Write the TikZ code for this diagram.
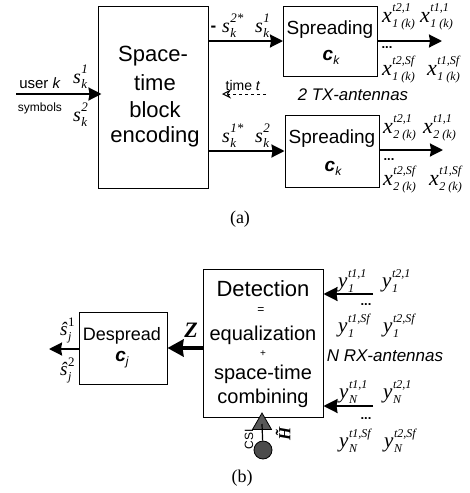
\documentclass[tikz,border=0pt]{standalone}
\usepackage{fontspec}
\setmainfont{Liberation Serif}
\setsansfont{Liberation Sans}
\usetikzlibrary{arrows.meta,shapes.geometric}
\newcommand{\fs}[1]{\fontsize{#1}{#1}\selectfont}
% base, sup, sub, base size, script size, sup raise, sub drop
\newcommand{\lbl}[7]{{\fs{#4}\itshape #1}\hspace{0.5pt}\makebox[0pt][l]{\raisebox{#6pt}{\fs{#5}\itshape #2}}\raisebox{-#7pt}{\fs{#5}\itshape #3}}
\newcommand{\slab}[2]{\lbl{s}{#1}{#2}{20}{13}{10}{5}}
\newcommand{\xlab}[2]{\lbl{x}{#1}{#2}{22}{12}{11}{5}}
\newcommand{\ylab}[2]{\lbl{y}{#1}{#2}{21}{12}{10}{5}}
\newcommand{\shatlab}[1]{{\fs{19}\itshape ŝ}\hspace{0.5pt}\makebox[0pt][l]{\raisebox{9pt}{\fs{13}#1}}\raisebox{-5pt}{\fs{12}\itshape j}}
\tikzset{
  blk/.style={draw,line width=1pt,inner sep=0pt,align=center,font=\sffamily},
  txl/.style={inner sep=0pt,anchor=base west},
  lab/.style={inner sep=0pt,font=\sffamily},
  mainar/.style={line width=2pt,-{Stealth[length=13pt,width=13pt,inset=1pt]}},
  thickar/.style={line width=4pt,-{Stealth[length=16pt,width=17pt,inset=1pt]}},
  rxar/.style={line width=2pt,-{Stealth[length=14pt,width=14pt,inset=1pt]}},
  dotsn/.style={inner sep=0pt,font=\sffamily\bfseries\fs{13}},
  codel/.style={inner sep=0pt,font=\sffamily\bfseries\itshape\fs{19}},
}
\begin{document}
\begin{tikzpicture}[x=1pt,y=-1pt]
\useasboundingbox (0,0) rectangle (470,493);
% boxes
\node[blk,minimum width=110pt,minimum height=182pt] (stbc) at (153,97) {};
\node[blk,minimum width=94pt,minimum height=70pt] (spr1) at (330.5,41) {};
\node[blk,minimum width=94pt,minimum height=72pt] (spr2) at (332,151) {};
\node[blk,minimum width=120pt,minimum height=148pt] (det) at (263,343) {};
\node[blk,minimum width=88pt,minimum height=72pt] (des) at (123,348) {};
% box text
\node[lab,font=\sffamily\fs{22}] (t1) at (153,56) {Space-};
\node[lab,font=\sffamily\fs{22}] (t2) at (155,83) {time};
\node[lab,font=\sffamily\fs{22}] (t3) at (155,110) {block};
\node[lab,font=\sffamily\fs{22}] (t4) at (155,137) {encoding};
\node[lab,font=\sffamily\fs{19}] (t5) at (330,30) {Spreading};
\node[codel] (t6) at (331,57) {c\raisebox{-4pt}{\fs{12}\mdseries k}};
\node[lab,font=\sffamily\fs{19}] (t7) at (332,139) {Spreading};
\node[codel] (t8) at (333,168) {c\raisebox{-4pt}{\fs{12}\mdseries k}};
\node[lab,font=\sffamily\fs{22}] (t9) at (263,289) {Detection};
\node[lab,font=\sffamily\fs{12}] (t10) at (261,311) {=};
\node[lab,font=\sffamily\fs{20}] (t11) at (263,335) {equalization};
\node[lab,font=\sffamily\fs{10}] (t12) at (263,354) {+};
\node[lab,font=\sffamily\fs{20}] (t13) at (263,374) {space-time};
\node[lab,font=\sffamily\fs{20}] (t14) at (263,398) {combining};
\node[lab,font=\sffamily\fs{18}] (t15) at (122,336) {Despread};
\node[codel] (t16) at (122,360) {c\raisebox{-4pt}{\fs{12}\mdseries j}};
% input
\coordinate (inp) at (16,94);
\draw[mainar] (inp) -- ([xshift=4pt]stbc.west |- inp);
\node[lab,font=\sffamily\fs{15}] (user) at (40,83) {user \textit{k}};
\node[lab,font=\sffamily\fs{12}] (sym) at (40,108) {symbols};
\node[txl] (s1) at (73,83) {\slab{1}{k}};
\node[txl] (s2) at (73,121) {\slab{2}{k}};
% encoder to spreading
\draw[mainar] (stbc.east |- spr1.west) -- (spr1.west);
\draw[mainar] (stbc.east |- spr2.west) -- (spr2.west);
\node[lab,font=\sffamily\bfseries\fs{17}] (minus) at (213.5,29) {-};
\node[txl] (a1) at (222,32) {\slab{2*}{k}};
\node[txl] (a2) at (255,32) {\slab{1}{k}};
\node[txl] (b1) at (222,142) {\slab{1*}{k}};
\node[txl] (b2) at (255,142) {\slab{2}{k}};
% time
\coordinate (tstart) at (266,94);
\coordinate (tend) at (222,94);
\draw[line width=1pt,dashed,-{Stealth[length=9pt,width=9pt,open]}] (tstart) -- (tend);
\node[lab,font=\sffamily\fs{14}] (time) at (243,85) {time \textit{t}};
\node[lab,font=\sffamily\itshape\fs{16.8}] (txa) at (353,95) {2 TX-antennas};
% outputs
\coordinate (o1) at (442,41);
\coordinate (o2) at (443,150);
\draw[mainar] (spr1.east) -- (o1);
\draw[mainar] (spr2.east |- o2) -- (o2);
\node[txl] (x11) at (382,22) {\xlab{t2,1}{1 (k)}};
\node[txl] (x12) at (420,22) {\xlab{t1,1}{1 (k)}};
\node[txl] (x13) at (382,75) {\xlab{t2,Sf}{1 (k)}};
\node[txl] (x14) at (427,75) {\xlab{t1,Sf}{1 (k)}};
\node[txl] (x21) at (383,133) {\xlab{t2,1}{2 (k)}};
\node[txl] (x22) at (423,133) {\xlab{t1,1}{2 (k)}};
\node[txl] (x23) at (383,185) {\xlab{t2,Sf}{2 (k)}};
\node[txl] (x24) at (429,185) {\xlab{t1,Sf}{2 (k)}};
\node[dotsn] (d1) at (387,48) {...};
\node[dotsn] (d2) at (389,160) {...};
\node[lab,font=\rmfamily\fs{18}] (capa) at (240,219) {(a)};
% receiver
\coordinate (r1) at (373,294);
\coordinate (r2) at (373,406);
\draw[rxar] (r1) -- (det.east |- r1);
\draw[rxar] (r2) -- (det.east |- r2);
\draw[thickar] (det.west |- des.east) -- (des.east);
\coordinate (dout) at (49,349);
\draw[mainar] (des.west |- dout) -- (dout);
\node[inner sep=0pt,font=\rmfamily\bfseries\itshape\fs{22}] (z) at (191,330) {Z};
\node[txl] (h1) at (60,335) {\shatlab{1}};
\node[txl] (h2) at (60,375) {\shatlab{2}};
\node[txl] (y11) at (338,287) {\ylab{t1,1}{1}};
\node[txl] (y12) at (382,287) {\ylab{t2,1}{1}};
\node[txl] (y13) at (338,332) {\ylab{t1,Sf}{1}};
\node[txl] (y14) at (383,332) {\ylab{t2,Sf}{1}};
\node[txl] (y21) at (339,398) {\ylab{t1,1}{N}};
\node[txl] (y22) at (383,398) {\ylab{t2,1}{N}};
\node[txl] (y23) at (339,447) {\ylab{t1,Sf}{N}};
\node[txl] (y24) at (384,447) {\ylab{t2,Sf}{N}};
\node[dotsn] (d3) at (366,305) {...};
\node[dotsn] (d4) at (366,419) {...};
\node[lab,font=\sffamily\itshape\fs{17}] (rx) at (385,356) {N RX-antennas};
% CSI
\node[draw,fill=black!65,regular polygon,regular polygon sides=3,minimum size=22pt,inner sep=0pt,line width=0.8pt] (tri) at (262,424) {};
\node[draw,fill=black!70,circle,minimum size=18pt,inner sep=0pt,line width=0.8pt] (csc) at (263,450) {};
\draw[line width=1.2pt] (csc) -- (tri.center);
\node[lab,font=\sffamily\fs{12},rotate=90] (csi) at (249,439) {CSI};
\node[inner sep=0pt,font=\rmfamily\bfseries\itshape\fs{17},rotate=90] (hh) at (283,434) {\~{H}};
\node[lab,font=\rmfamily\fs{18}] (capb) at (242,478) {(b)};
\end{tikzpicture}
\end{document}
